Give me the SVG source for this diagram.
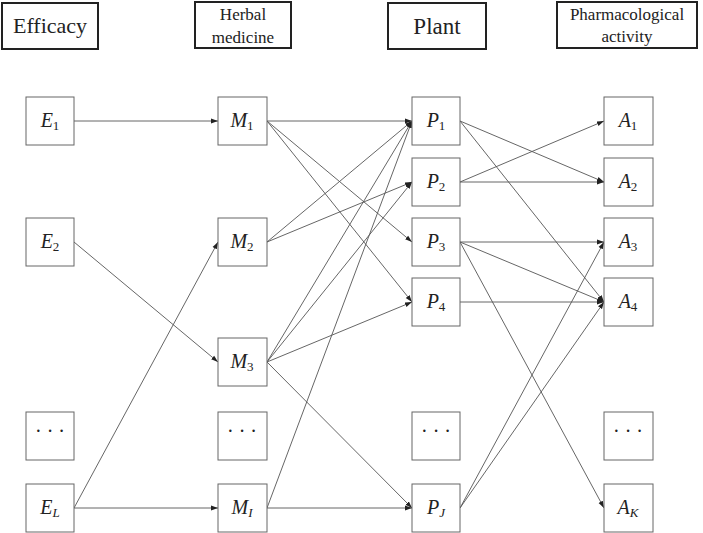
<svg xmlns="http://www.w3.org/2000/svg" width="703" height="533" viewBox="0 0 703 533">
<defs>
<marker id="arr" markerUnits="userSpaceOnUse" markerWidth="8" markerHeight="6" refX="7" refY="3" orient="auto">
<path d="M0,0.6 L7,3 L0,5.4 Z" fill="#222"/>
</marker>
<style>
.hdr{fill:#fff;stroke:#222;stroke-width:2}
.box{fill:#fff;stroke:#666;stroke-width:1}
.ht{font-family:"Liberation Serif","DejaVu Serif",serif;fill:#222;text-anchor:middle}
.nt{font-family:"Liberation Serif","DejaVu Serif",serif;font-size:20px;fill:#222;text-anchor:middle}
.it{font-style:italic}
.sub{font-size:13px}
.e{stroke:#555;stroke-width:0.9;fill:none;marker-end:url(#arr)}
</style>
</defs>
<rect width="703" height="533" fill="#fff"/>

<g id="headers">
<g id="h-efficacy"><rect class="hdr" x="2" y="3" width="96" height="46"/><text class="ht" x="50" y="33" font-size="22">Efficacy</text></g>
<g id="h-herbal"><rect class="hdr" x="195" y="2" width="96" height="46"/><text class="ht" x="243" y="20" font-size="17">Herbal</text><text class="ht" x="243" y="43" font-size="17">medicine</text></g>
<g id="h-plant"><rect class="hdr" x="388" y="3" width="98" height="46"/><text class="ht" x="437" y="34" font-size="23">Plant</text></g>
<g id="h-pharm"><rect class="hdr" x="557" y="2" width="140" height="46"/><text class="ht" x="627" y="20" font-size="17">Pharmacological</text><text class="ht" x="627" y="42" font-size="17">activity</text></g>
</g>

<g id="connectors">
<line class="e" x1="74" y1="121" x2="218" y2="121"/>
<line class="e" x1="74" y1="242" x2="218" y2="362"/>
<line class="e" x1="74" y1="508" x2="218" y2="242"/>
<line class="e" x1="74" y1="508" x2="218" y2="508"/>

<line class="e" x1="267" y1="121" x2="412" y2="121"/>
<line class="e" x1="267" y1="121" x2="412" y2="242"/>
<line class="e" x1="267" y1="121" x2="412" y2="302"/>
<line class="e" x1="267" y1="242" x2="412" y2="121"/>
<line class="e" x1="267" y1="242" x2="412" y2="182"/>
<line class="e" x1="267" y1="362" x2="412" y2="121"/>
<line class="e" x1="267" y1="362" x2="412" y2="182"/>
<line class="e" x1="267" y1="362" x2="412" y2="302"/>
<line class="e" x1="267" y1="362" x2="412" y2="508"/>
<line class="e" x1="267" y1="508" x2="412" y2="121"/>
<line class="e" x1="267" y1="508" x2="412" y2="508"/>

<line class="e" x1="460" y1="121" x2="604" y2="182"/>
<line class="e" x1="460" y1="121" x2="604" y2="302"/>
<line class="e" x1="460" y1="182" x2="604" y2="121"/>
<line class="e" x1="460" y1="182" x2="604" y2="182"/>
<line class="e" x1="460" y1="242" x2="604" y2="242"/>
<line class="e" x1="460" y1="242" x2="604" y2="302"/>
<line class="e" x1="460" y1="242" x2="604" y2="508"/>
<line class="e" x1="460" y1="302" x2="604" y2="302"/>
<line class="e" x1="460" y1="508" x2="604" y2="242"/>
<line class="e" x1="460" y1="508" x2="604" y2="302"/>
</g>

<g id="E1"><rect class="box" x="26" y="97" width="48" height="48"/><text class="nt" x="50" y="127"><tspan class="it">E</tspan><tspan class="sub" dy="3">1</tspan></text></g>
<g id="E2"><rect class="box" x="26" y="218" width="48" height="48"/><text class="nt" x="50" y="248"><tspan class="it">E</tspan><tspan class="sub" dy="3">2</tspan></text></g>
<g id="Edots"><rect class="box" x="26" y="412" width="48" height="48"/><text class="nt" x="50" y="438">· · ·</text></g>
<g id="EL"><rect class="box" x="26" y="484" width="48" height="48"/><text class="nt" x="50" y="514"><tspan class="it">E</tspan><tspan class="sub it" dy="3">L</tspan></text></g>

<g id="M1"><rect class="box" x="218" y="97" width="49" height="48"/><text class="nt" x="242" y="127"><tspan class="it">M</tspan><tspan class="sub" dy="3">1</tspan></text></g>
<g id="M2"><rect class="box" x="218" y="218" width="49" height="48"/><text class="nt" x="242" y="248"><tspan class="it">M</tspan><tspan class="sub" dy="3">2</tspan></text></g>
<g id="M3"><rect class="box" x="218" y="338" width="49" height="48"/><text class="nt" x="242" y="368"><tspan class="it">M</tspan><tspan class="sub" dy="3">3</tspan></text></g>
<g id="Mdots"><rect class="box" x="218" y="412" width="49" height="48"/><text class="nt" x="242" y="438">· · ·</text></g>
<g id="MI"><rect class="box" x="218" y="484" width="49" height="48"/><text class="nt" x="242" y="514"><tspan class="it">M</tspan><tspan class="sub it" dy="3">I</tspan></text></g>

<g id="P1"><rect class="box" x="412" y="97" width="48" height="48"/><text class="nt" x="436" y="127"><tspan class="it">P</tspan><tspan class="sub" dy="3">1</tspan></text></g>
<g id="P2"><rect class="box" x="412" y="158" width="48" height="48"/><text class="nt" x="436" y="188"><tspan class="it">P</tspan><tspan class="sub" dy="3">2</tspan></text></g>
<g id="P3"><rect class="box" x="412" y="218" width="48" height="48"/><text class="nt" x="436" y="248"><tspan class="it">P</tspan><tspan class="sub" dy="3">3</tspan></text></g>
<g id="P4"><rect class="box" x="412" y="278" width="48" height="48"/><text class="nt" x="436" y="308"><tspan class="it">P</tspan><tspan class="sub" dy="3">4</tspan></text></g>
<g id="Pdots"><rect class="box" x="412" y="412" width="48" height="48"/><text class="nt" x="436" y="438">· · ·</text></g>
<g id="PJ"><rect class="box" x="412" y="484" width="48" height="48"/><text class="nt" x="436" y="514"><tspan class="it">P</tspan><tspan class="sub it" dy="3">J</tspan></text></g>

<g id="A1"><rect class="box" x="604" y="97" width="49" height="48"/><text class="nt" x="628" y="127"><tspan class="it">A</tspan><tspan class="sub" dy="3">1</tspan></text></g>
<g id="A2"><rect class="box" x="604" y="158" width="49" height="48"/><text class="nt" x="628" y="188"><tspan class="it">A</tspan><tspan class="sub" dy="3">2</tspan></text></g>
<g id="A3"><rect class="box" x="604" y="218" width="49" height="48"/><text class="nt" x="628" y="248"><tspan class="it">A</tspan><tspan class="sub" dy="3">3</tspan></text></g>
<g id="A4"><rect class="box" x="604" y="278" width="49" height="48"/><text class="nt" x="628" y="308"><tspan class="it">A</tspan><tspan class="sub" dy="3">4</tspan></text></g>
<g id="Adots"><rect class="box" x="604" y="412" width="49" height="48"/><text class="nt" x="628" y="438">· · ·</text></g>
<g id="AK"><rect class="box" x="604" y="484" width="49" height="48"/><text class="nt" x="628" y="514"><tspan class="it">A</tspan><tspan class="sub it" dy="3">K</tspan></text></g>
</svg>
